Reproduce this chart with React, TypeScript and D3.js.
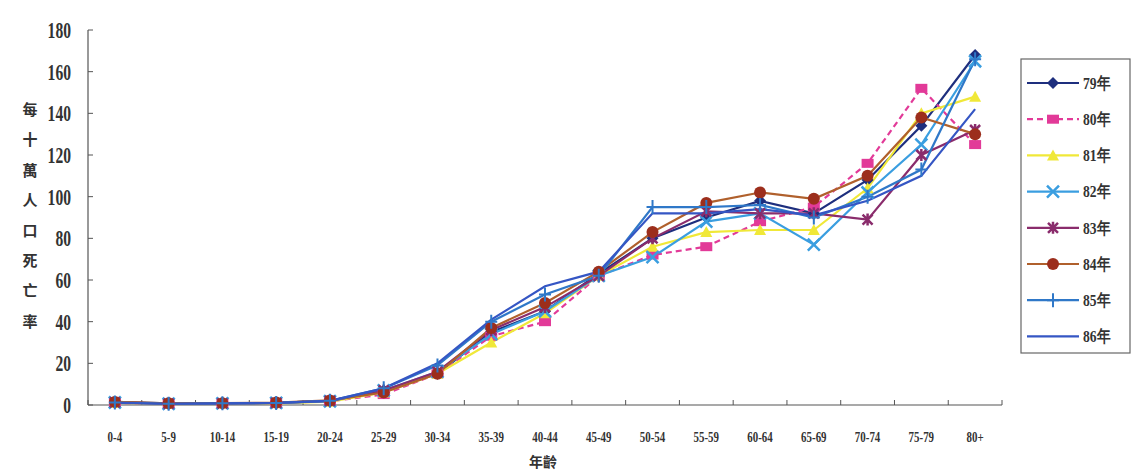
import * as d3 from "d3";
import React from "react";

// age groups (x categories)
const ageGroups = [
  "0-4", "5-9", "10-14", "15-19", "20-24", "25-29", "30-34", "35-39", "40-44",
  "45-49", "50-54", "55-59", "60-64", "65-69", "70-74", "75-79", "80+",
];

// deaths per 100k
const y79 = [1.5, 0.8, 0.8, 1, 2, 7, 15, 35, 45, 63, 80, 90, 98, 92, 108, 134, 168];
const y80 = [1, 0.5, 0.7, 0.9, 1.8, 5, 15, 33, 40, 62, 72, 76, 88, 95, 116, 152, 125];
const y81 = [1, 0.5, 0.7, 0.8, 1.6, 6, 15, 30, 44, 62, 76, 83, 84, 84, 104, 140, 148];
const y82 = [1.2, 0.6, 0.8, 1, 1.8, 7, 16, 34, 45, 62, 71, 88, 92, 77, 102, 125, 165];
const y83 = [1.3, 0.7, 0.8, 1, 2, 7, 16, 36, 47, 62, 80, 93, 92, 92, 89, 120, 132];
const y84 = [1.5, 0.8, 0.9, 1.2, 2.2, 6, 15, 37, 49, 64, 83, 97, 102, 99, 110, 138, 130];
const y85 = [1.2, 0.6, 0.8, 1, 2, 8, 19, 40, 53, 62, 95, 95, 96, 90, 100, 113, 166];
const y86 = [1, 0.6, 0.8, 1, 2, 8, 20, 41, 57, 64, 92, 92, 94, 91, 98, 110, 142];

const seriesNames = ["79年", "80年", "81年", "82年", "83年", "84年", "85年", "86年"];
const yTicks = [0, 20, 40, 60, 80, 100, 120, 140, 160, 180];
const yTitle = "每十萬人口死亡率";
const xTitle = "年齡";

type Marker = "diamond" | "square" | "triangle" | "x" | "star" | "circle" | "plus" | "none";

const series = [
  { name: seriesNames[0], values: y79, line: "#1e2f7e", fill: "#1e2f7e", marker: "diamond" as Marker, dash: "" },
  { name: seriesNames[1], values: y80, line: "#e23a98", fill: "#e23a98", marker: "square" as Marker, dash: "6,4" },
  { name: seriesNames[2], values: y81, line: "#f0e838", fill: "#f0e838", marker: "triangle" as Marker, dash: "" },
  { name: seriesNames[3], values: y82, line: "#3a9ee0", fill: "#3a9ee0", marker: "x" as Marker, dash: "" },
  { name: seriesNames[4], values: y83, line: "#8a2c6c", fill: "#8a2c6c", marker: "star" as Marker, dash: "" },
  { name: seriesNames[5], values: y84, line: "#b0602c", fill: "#9c2e1c", marker: "circle" as Marker, dash: "" },
  { name: seriesNames[6], values: y85, line: "#2f78c8", fill: "#2f78c8", marker: "plus" as Marker, dash: "" },
  { name: seriesNames[7], values: y86, line: "#3556c4", fill: "#3556c4", marker: "none" as Marker, dash: "" },
];

const W = 1133;
const H = 471;
const plot = { left: 88, right: 1002, top: 30, bottom: 405 };
const font = "'Liberation Serif', 'DejaVu Serif', serif";
const cjk = "'Noto Sans CJK TC', 'Noto Sans CJK SC', sans-serif";

const MarkerShape = ({ type, x, y, fill, stroke }: { type: Marker; x: number; y: number; fill: string; stroke: string }) => {
  switch (type) {
    case "diamond":
      return <path d={`M${x},${y - 6}L${x + 6},${y}L${x},${y + 6}L${x - 6},${y}Z`} fill={fill} />;
    case "square":
      return <rect x={x - 6} y={y - 4.5} width={12} height={9} fill={fill} />;
    case "triangle":
      return <path d={`M${x},${y - 6}L${x + 6},${y + 5}L${x - 6},${y + 5}Z`} fill={fill} />;
    case "x":
      return (
        <path d={`M${x - 6},${y - 6}L${x + 6},${y + 6}M${x - 6},${y + 6}L${x + 6},${y - 6}`} stroke={stroke} strokeWidth={2.5} />
      );
    case "star":
      return (
        <path
          d={`M${x - 5},${y - 5}L${x + 5},${y + 5}M${x - 5},${y + 5}L${x + 5},${y - 5}M${x},${y - 6}L${x},${y + 6}`}
          stroke={stroke}
          strokeWidth={2.5}
        />
      );
    case "circle":
      return <circle cx={x} cy={y} r={6} fill={fill} />;
    case "plus":
      return <path d={`M${x - 6},${y}L${x + 6},${y}M${x},${y - 7}L${x},${y + 7}`} stroke={stroke} strokeWidth={2} />;
    default:
      return null;
  }
};

// condensed text drawn at an anchor point
const Narrow = ({ x, y, sx, sy, anchor, size, children }: any) => (
  <text
    transform={`translate(${x},${y}) scale(${sx},${sy})`}
    dy="0.35em"
    textAnchor={anchor}
    fontFamily={font}
    fontWeight="bold"
    fontSize={size}
    fill="#333"
  >
    {children}
  </text>
);

export default function App() {
  const band = d3.scaleBand<string>().domain(ageGroups).range([plot.left, plot.right]).padding(0);
  const x = (c: string) => (band(c) ?? 0) + band.bandwidth() / 2;
  const y = d3.scaleLinear().domain([0, 180]).range([plot.bottom, plot.top]);

  const line = d3
    .line<number>()
    .x((_, i) => x(ageGroups[i]))
    .y((d) => y(d));

  const boundaries = ageGroups.map((c) => band(c) ?? 0).concat([plot.right]);

  const legendX = 1021;
  const legendY0 = 83;
  const legendStep = 36.2;

  return (
    <svg
      width={W}
      height={H}
      style={{ position: "absolute", left: 0, top: 0, background: "#fff" }}
    >
      <rect width={W} height={H} fill="#fff" />

      {/* axes */}
      <line x1={plot.left} x2={plot.left} y1={plot.top} y2={plot.bottom} stroke="#555" strokeWidth={1.2} />
      <line x1={plot.left} x2={plot.right} y1={plot.bottom} y2={plot.bottom} stroke="#555" strokeWidth={1.2} />
      {yTicks.map((t) => (
        <g key={t}>
          <line x1={plot.left} x2={plot.left + 5} y1={y(t)} y2={y(t)} stroke="#555" />
          <Narrow x={71} y={y(t)} sx={0.78} sy={1.15} anchor="end" size={20}>
            {t}
          </Narrow>
        </g>
      ))}
      {boundaries.map((b, i) => (
        <line key={i} x1={b} x2={b} y1={plot.bottom} y2={plot.bottom - 5} stroke="#555" />
      ))}
      {ageGroups.map((c) => (
        <Narrow key={c} x={x(c)} y={437} sx={0.78} sy={1.05} anchor="middle" size={14}>
          {c}
        </Narrow>
      ))}

      {/* titles */}
      {yTitle.split("").map((ch, i) => (
        <text
          key={i}
          x={30}
          y={110 + i * 30.2}
          dy="0.35em"
          textAnchor="middle"
          fontFamily={cjk}
          fontWeight="bold"
          fontSize={15}
          fill="#333"
        >
          {ch}
        </text>
      ))}
      <text x={543} y={467} textAnchor="middle" fontFamily={cjk} fontWeight="bold" fontSize={14} fill="#333">
        {xTitle}
      </text>

      {/* lines */}
      {series.map((s) => (
        <path
          key={s.name}
          d={line(s.values) ?? ""}
          fill="none"
          stroke={s.line}
          strokeWidth={2.2}
          strokeDasharray={s.dash || undefined}
        />
      ))}
      {series.map((s) => (
        <g key={s.name + "m"}>
          {s.values.map((v, i) => (
            <MarkerShape key={i} type={s.marker} x={x(ageGroups[i])} y={y(v)} fill={s.fill} stroke={s.fill} />
          ))}
        </g>
      ))}

      {/* legend */}
      <rect x={legendX} y={59} width={109} height={294} fill="#fff" stroke="#666" strokeWidth={1.2} />
      {series.map((s, i) => {
        const ly = legendY0 + i * legendStep;
        return (
          <g key={s.name + "l"}>
            <line
              x1={legendX + 6}
              x2={legendX + 58}
              y1={ly}
              y2={ly}
              stroke={s.line}
              strokeWidth={2.2}
              strokeDasharray={s.dash || undefined}
            />
            <MarkerShape type={s.marker} x={legendX + 32} y={ly} fill={s.fill} stroke={s.fill} />
            <Narrow x={legendX + 62} y={ly} sx={0.85} sy={1.05} anchor="start" size={16}>
              {s.name}
            </Narrow>
          </g>
        );
      })}
    </svg>
  );
}
